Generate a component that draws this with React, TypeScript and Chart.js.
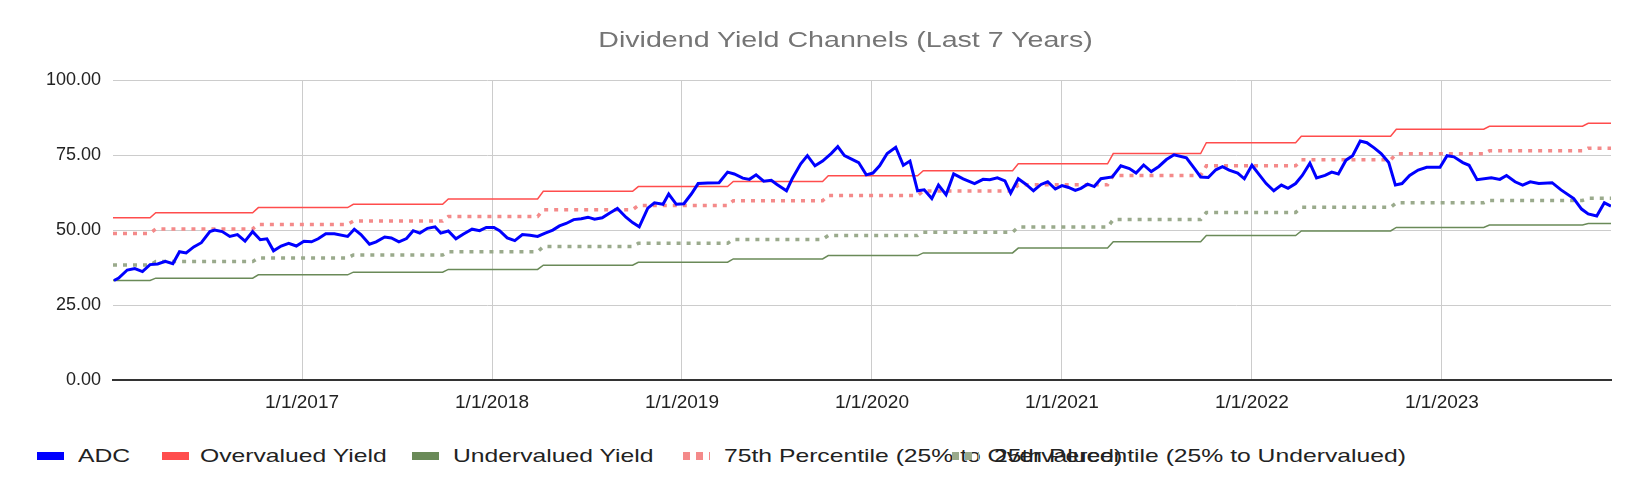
import React, { useEffect, useRef } from "react";
import { Chart, registerables } from "chart.js";
Chart.register(...registerables);

// x values are fractional years
const ADC_DATES = [
  2016.01, 2016.035, 2016.08, 2016.12, 2016.16, 2016.2, 2016.24, 2016.28, 2016.32, 2016.355, 2016.39, 2016.43, 2016.47, 2016.515, 2016.54, 2016.58, 2016.62, 2016.66, 2016.7, 2016.74, 2016.78, 2016.815, 2016.85, 2016.89, 2016.93, 2016.97,
  2017.01, 2017.05, 2017.085, 2017.125, 2017.17, 2017.24, 2017.275, 2017.31, 2017.355, 2017.39, 2017.435, 2017.47, 2017.51, 2017.55, 2017.585, 2017.62, 2017.66, 2017.7, 2017.73, 2017.77, 2017.81, 2017.85, 2017.895, 2017.935, 2017.97,
  2018.01, 2018.04, 2018.08, 2018.12, 2018.16, 2018.2, 2018.24, 2018.28, 2018.32, 2018.355, 2018.39, 2018.43, 2018.47, 2018.505, 2018.54, 2018.58, 2018.62, 2018.66, 2018.705, 2018.74, 2018.775, 2018.82, 2018.855, 2018.9, 2018.93, 2018.97,
  2019.01, 2019.05, 2019.085, 2019.135, 2019.195, 2019.24, 2019.275, 2019.32, 2019.355, 2019.39, 2019.43, 2019.47, 2019.5, 2019.55, 2019.58, 2019.625, 2019.66, 2019.7, 2019.74, 2019.785, 2019.82, 2019.855, 2019.89, 2019.93, 2019.97,
  2020.005, 2020.04, 2020.08, 2020.125, 2020.165, 2020.2, 2020.24, 2020.275, 2020.315, 2020.35, 2020.39, 2020.43, 2020.48, 2020.54, 2020.585, 2020.62, 2020.66, 2020.7, 2020.73, 2020.77, 2020.81, 2020.85, 2020.89, 2020.925, 2020.965,
  2021.0, 2021.035, 2021.07, 2021.1, 2021.135, 2021.17, 2021.205, 2021.265, 2021.31, 2021.355, 2021.39, 2021.43, 2021.47, 2021.51, 2021.55, 2021.59, 2021.655, 2021.7, 2021.73, 2021.77, 2021.81, 2021.845, 2021.88, 2021.925, 2021.96,
  2022.0, 2022.035, 2022.075, 2022.115, 2022.155, 2022.19, 2022.23, 2022.265, 2022.305, 2022.34, 2022.385, 2022.42, 2022.455, 2022.495, 2022.53, 2022.57, 2022.605, 2022.645, 2022.68, 2022.72, 2022.755, 2022.79, 2022.83, 2022.875, 2022.92, 2022.99,
  2023.027, 2023.063, 2023.11, 2023.143, 2023.185, 2023.26, 2023.305, 2023.34, 2023.385, 2023.425, 2023.465, 2023.51, 2023.58, 2023.627, 2023.694, 2023.735, 2023.77, 2023.815, 2023.855, 2023.89,
];
const ADC_VALUES = [
  33.2, 34, 36.7, 37.2, 36.2, 38.5, 38.7, 39.6, 38.8, 42.8, 42.4, 44.4, 45.8, 49.5, 50, 49.5, 47.9, 48.5, 46.3, 49.5, 46.8, 47.1, 43.1, 44.7, 45.6, 44.7,
  46.3, 46.1, 47.1, 48.8, 48.8, 47.9, 50.3, 48.5, 45.3, 46.1, 47.7, 47.4, 46.1, 47.2, 49.8, 49, 50.6, 51.1, 49, 49.7, 47.1, 48.7, 50.3, 49.8, 50.9,
  50.9, 49.8, 47.4, 46.5, 48.5, 48.3, 47.9, 49, 50, 51.4, 52.2, 53.5, 53.8, 54.3, 53.6, 54.1, 55.7, 57.2, 54.3, 52.5, 51.1, 57.3, 59.1, 58.6, 62, 58.6,
  58.8, 62.1, 65.5, 65.7, 65.8, 69.3, 68.7, 67.3, 66.9, 68.4, 66.3, 66.6, 65.2, 63.1, 67.1, 72.1, 74.8, 71.4, 73, 75.5, 77.8, 74.8, 73.7, 72.5, 68.4,
  69, 71.4, 75.5, 77.6, 71.6, 73, 63.1, 63.4, 60.5, 65, 61.8, 68.7, 67.1, 65.5, 66.9, 66.8, 67.4, 66.4, 62.3, 67.1, 65.3, 63.1, 65.2, 66.1, 63.7,
  64.8, 64.2, 63.2, 63.9, 65.3, 64.5, 67.1, 67.7, 71.4, 70.5, 69, 71.7, 69.5, 71.2, 73.5, 75.1, 74.1, 70.3, 67.7, 67.5, 70.1, 71.1, 70, 69, 67.1,
  71.6, 68.7, 65.5, 63.1, 65, 63.9, 65.5, 68.2, 72.3, 67.4, 68.2, 69.3, 68.7, 73.3, 74.8, 79.7, 79.1, 77.3, 75.5, 72.5, 65, 65.5, 68.2, 70, 70.9, 70.9,
  74.8, 74.4, 72.5, 71.6, 66.8, 67.4, 66.9, 68.2, 66.1, 65, 66.1, 65.5, 65.8, 63.4, 60.5, 57, 55.4, 54.7, 59.1, 58,
];

const STEP_STARTS = [2016.005, 2016.2, 2016.74, 2017.24, 2017.74, 2018.24, 2018.74, 2019.24, 2019.74, 2020.24, 2020.74, 2021.24, 2021.73, 2022.23, 2022.73, 2023.22, 2023.74];
const RANGE_END = 2023.89;
const OVERVALUED = [54.1, 55.8, 57.5, 58.6, 60.4, 62.9, 64.5, 66.2, 68.1, 69.8, 72.1, 75.5, 79.1, 81.3, 83.6, 84.6, 85.6];
const UNDERVALUED = [33.2, 34, 35.1, 36, 36.9, 38.3, 39.3, 40.4, 41.5, 42.4, 44, 46.1, 48.2, 49.7, 50.9, 51.7, 52.2];
const P75 = [48.9, 50.4, 51.9, 53.0, 54.5, 56.8, 58.2, 59.8, 61.5, 63.0, 65.1, 68.2, 71.4, 73.4, 75.4, 76.4, 77.3];
const P25 = [38.4, 39.5, 40.7, 41.7, 42.8, 44.5, 45.6, 46.9, 48.2, 49.3, 51.0, 53.5, 55.9, 57.6, 59.1, 59.9, 60.6];

const X_TICK_YEARS = [2017, 2018, 2019, 2020, 2021, 2022, 2023];
const Y_TICKS = [0, 25, 50, 75, 100];

function stepPoints(levels: number[]) {
  const pts: { x: number; y: number }[] = [];
  levels.forEach((v, i) => {
    const s = STEP_STARTS[i] + (i === 0 ? 0 : 0.03);
    const e = i + 1 < STEP_STARTS.length ? STEP_STARTS[i + 1] : RANGE_END;
    pts.push({ x: s, y: v }, { x: e, y: v });
  });
  return pts;
}

const COLORS = {
  adc: "#0000ff",
  over: "#ff4d4d",
  under: "#6a8a58",
  p75: "#f48a8a",
  p25: "#9aaa8c",
};

const FONT = "Liberation Sans, Arial, sans-serif";
const TITLE = "Dividend Yield Channels (Last 7 Years)";

const LEGEND = [
  { label: "ADC", color: COLORS.adc, dotted: false, mx: 29, tx: 70 },
  { label: "Overvalued Yield", color: COLORS.over, dotted: false, mx: 154, tx: 192 },
  { label: "Undervalued Yield", color: COLORS.under, dotted: false, mx: 404, tx: 445 },
  { label: "75th Percentile (25% to Overvalued)", color: COLORS.p75, dotted: true, mx: 675, tx: 716 },
  { label: "25th Percentile (25% to Undervalued)", color: COLORS.p25, dotted: true, mx: 944, tx: 986 },
];

export default function App() {
  const ref = useRef<HTMLCanvasElement>(null);
  useEffect(() => {
    const chart = new Chart(ref.current!, {
      type: "line",
      data: {
        datasets: [
          { label: "ADC", data: ADC_DATES.map((x, i) => ({ x, y: ADC_VALUES[i] })), borderColor: COLORS.adc, borderWidth: 3, pointRadius: 0, order: 0 },
          { label: "Overvalued Yield", data: stepPoints(OVERVALUED), borderColor: COLORS.over, borderWidth: 1.5, pointRadius: 0, order: 1 },
          { label: "Undervalued Yield", data: stepPoints(UNDERVALUED), borderColor: COLORS.under, borderWidth: 1.5, pointRadius: 0, order: 2 },
          { label: "75th Percentile (25% to Overvalued)", data: stepPoints(P75), borderColor: COLORS.p75, borderWidth: 3.5, borderDash: [4, 6], pointRadius: 0, order: 3 },
          { label: "25th Percentile (25% to Undervalued)", data: stepPoints(P25), borderColor: COLORS.p25, borderWidth: 3.5, borderDash: [4, 6], pointRadius: 0, order: 4 },
        ],
      },
      options: {
        animation: false,
        responsive: false,
        layout: { padding: { top: 72, right: 17, bottom: 13, left: 0 } },
        plugins: {
          legend: { display: false },
          tooltip: { enabled: false },
          title: { display: false },
        },
        scales: {
          x: {
            type: "linear",
            min: 2016.005,
            max: RANGE_END,
            afterBuildTicks: (axis: any) => {
              axis.ticks = X_TICK_YEARS.map((v) => ({ value: v }));
            },
            ticks: {
              callback: (v: any) => "1/1/" + Math.round(Number(v)),
              color: "#222",
              font: { family: FONT, size: 19 },
              maxRotation: 0,
              padding: 11,
            },
            grid: { color: "#cccccc", lineWidth: 1, drawTicks: false },
            border: { color: "#333333", width: 2 },
          },
          y: {
            min: 0,
            max: 100,
            afterBuildTicks: (axis: any) => {
              axis.ticks = Y_TICKS.map((v) => ({ value: v }));
            },
            afterFit: (axis: any) => {
              axis.width = 105;
            },
            ticks: {
              callback: (v: any) => Number(v).toFixed(2),
              color: "#222",
              font: { family: FONT, size: 18 },
              padding: 12,
            },
            grid: { color: "#cccccc", lineWidth: 1, drawTicks: false },
            border: { display: false },
          },
        },
      },
    });
    return () => chart.destroy();
  }, []);

  return (
    <div style={{ position: "relative", width: 1620, height: 478, fontFamily: FONT }}>
      <canvas ref={ref} width={1620} height={430} style={{ display: "block" }} />
      <div
        style={{
          position: "absolute",
          top: 18,
          left: 0,
          width: 1620,
          textAlign: "center",
          fontSize: 22,
          lineHeight: "28px",
          color: "#757575",
        }}
      >
        <span style={{ display: "inline-block", transform: "scaleX(1.3)", paddingLeft: 42 }}>{TITLE}</span>
      </div>
      {LEGEND.map((l) => (
        <React.Fragment key={l.label}>
          <span
            style={{
              position: "absolute",
              left: l.mx,
              top: 444,
              width: 27,
              height: 8,
              background: l.dotted
                ? `repeating-linear-gradient(to right, ${l.color} 0 7px, transparent 7px 13px)`
                : l.color,
            }}
          />
          <span
            style={{
              position: "absolute",
              left: l.tx,
              top: 436,
              fontSize: 19,
              lineHeight: "24px",
              color: "#222",
              whiteSpace: "nowrap",
              transform: "scaleX(1.3)",
              transformOrigin: "left center",
            }}
          >
            {l.label}
          </span>
        </React.Fragment>
      ))}
    </div>
  );
}
